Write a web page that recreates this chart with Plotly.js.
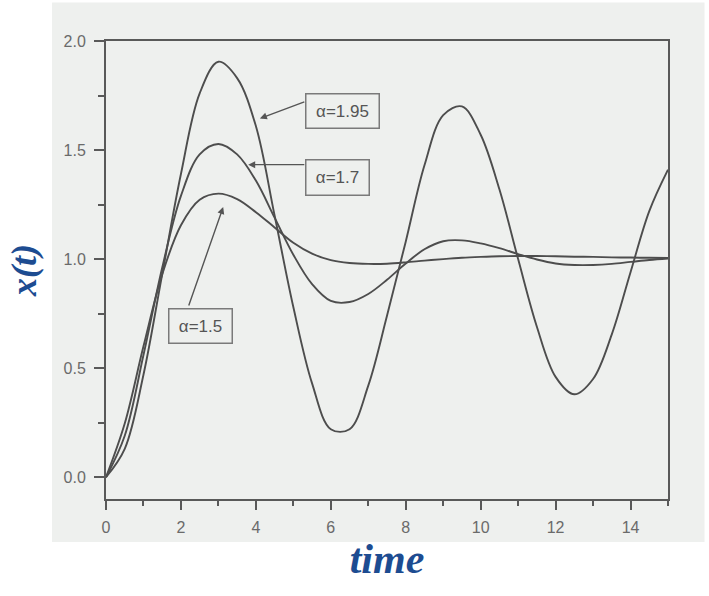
<!DOCTYPE html>
<html>
<head>
<meta charset="utf-8">
<script src="https://cdn.plot.ly/plotly-3.0.1.min.js"></script>
<style>html,body{margin:0;padding:0;background:#ffffff;}#chart{width:709px;height:596px;}</style>
</head>
<body>
<div id="chart"></div>
<script>
// time axis samples
var time = [0,0.5,1,1.5,2,2.5,3,3.5,4,4.5,5,5.5,6,6.5,7,7.5,8,8.5,9,9.5,10,10.5,11,11.5,12,12.5,13,13.5,14,14.5,15];
// x(t) for alpha = 1.95
var alpha195 = [0,0.13,0.47,0.93,1.39,1.76,1.905,1.83,1.61,1.20,0.78,0.43,0.22,0.22,0.42,0.74,1.08,1.43,1.66,1.70,1.57,1.32,1.0,0.69,0.46,0.38,0.45,0.655,0.94,1.22,1.41];
// x(t) for alpha = 1.7
var alpha17 = [0,0.19,0.56,0.96,1.29,1.48,1.528,1.48,1.36,1.19,1.02,0.885,0.808,0.803,0.84,0.905,0.98,1.045,1.082,1.086,1.072,1.05,1.023,0.998,0.98,0.973,0.973,0.978,0.987,0.996,1.003];
// x(t) for alpha = 1.5
var alpha15 = [0,0.246,0.60,0.93,1.155,1.272,1.30,1.275,1.215,1.145,1.075,1.025,0.995,0.982,0.978,0.979,0.985,0.993,1.0,1.006,1.01,1.013,1.014,1.014,1.013,1.011,1.01,1.008,1.007,1.006,1.005];

var labels = ['\u03b1=1.95','\u03b1=1.7','\u03b1=1.5'];
var series = [alpha195, alpha17, alpha15];

var curveColor = '#4d4d4d';
var traces = series.map(function(s, i){
  return {x: time, y: s, type: 'scatter', mode: 'lines', name: labels[i],
          line: {color: curveColor, width: 1.9, shape: 'spline', smoothing: 1}};
});

var axisCol = '#595959';
var tickFont = {family: 'Liberation Sans, Arial, sans-serif', size: 16, color: '#6a6a6a'};
var titleFont = {family: 'Liberation Serif, Times New Roman, serif', color: '#1d4c91'};

// label boxes (centre) and arrows (tail -> head), data coordinates
var boxes = [
  {text: labels[0], x: 6.32, y: 1.68, w: 72, h: 33},
  {text: labels[1], x: 6.19, y: 1.375, w: 62, h: 34},
  {text: labels[2], x: 2.53, y: 0.694, w: 62, h: 33}
];
var arrows = [
  {tx: 5.333, ty: 1.723, hx: 4.107, hy: 1.645},
  {tx: 5.333, ty: 1.433, hx: 3.795, hy: 1.433},
  {tx: 2.195, ty: 0.780, hx: 3.128, hy: 1.239}
];
var annotations = [];
boxes.forEach(function(b){
  annotations.push({x: b.x, y: b.y, xref: 'x', yref: 'y', text: b.text, showarrow: false,
    width: b.w, height: b.h, borderpad: 0, bordercolor: '#7a7a7a', borderwidth: 1.5,
    font: {family: 'Liberation Sans, Arial, sans-serif', size: 17, color: '#555555'}});
});
arrows.forEach(function(a){
  annotations.push({x: a.hx, y: a.hy, ax: a.tx, ay: a.ty, xref: 'x', yref: 'y', axref: 'x', ayref: 'y',
    text: '', showarrow: true, arrowhead: 2, arrowsize: 1, arrowwidth: 1.4, arrowcolor: '#555555',
    standoff: 0, startstandoff: 0});
});

var layout = {
  width: 709, height: 596,
  margin: {l: 106, r: 40.5, t: 41, b: 97},
  paper_bgcolor: '#ffffff',
  plot_bgcolor: 'rgba(0,0,0,0)',
  showlegend: false,
  shapes: [{type: 'rect', xref: 'paper', yref: 'paper', x0: -0.096, x1: 1.065, y0: -0.094, y1: 1.084,
            fillcolor: '#eef0ee', line: {width: 0}, layer: 'below'}],
  xaxis: {
    range: [0, 15], tick0: 0, dtick: 2, ticks: 'outside', ticklen: 9, tickwidth: 2, tickcolor: axisCol,
    showline: true, linecolor: axisCol, linewidth: 2, mirror: true, showgrid: false, zeroline: false,
    minor: {ticks: 'outside', ticklen: 5, tickwidth: 2, dtick: 1, tickcolor: axisCol, showgrid: false},
    tickfont: tickFont, ticklabelstandoff: 4,
    title: {text: '<b><i>time</i></b>', font: Object.assign({size: 42}, titleFont), standoff: 8}
  },
  yaxis: {
    range: [-0.1, 2.0], tick0: 0, dtick: 0.5, tickformat: '.1f', ticks: 'outside', ticklen: 10, tickwidth: 2, tickcolor: axisCol,
    showline: true, linecolor: axisCol, linewidth: 2, mirror: true, showgrid: false, zeroline: false,
    minor: {ticks: 'outside', ticklen: 6, tickwidth: 2, dtick: 0.25, tickcolor: axisCol, showgrid: false},
    tickfont: tickFont, ticklabelstandoff: 5,
    title: {text: '<b><i>x(t)</i></b>', font: Object.assign({size: 36}, titleFont), standoff: 16}
  },
  annotations: annotations
};

Plotly.newPlot('chart', traces, layout, {displayModeBar: false, staticPlot: true});
</script>
</body>
</html>
